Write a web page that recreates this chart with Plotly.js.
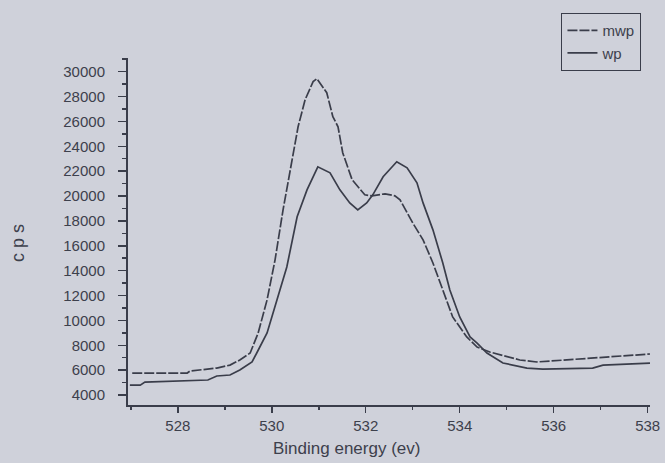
<!DOCTYPE html>
<html>
<head>
<meta charset="utf-8">
<script src="https://cdn.plot.ly/plotly-3.0.1.min.js"></script>
<style>html,body{margin:0;padding:0;background:#cfd1da;}</style>
</head>
<body>
<div id="chart" style="width:665px;height:463px;"></div>
<script>
// Binding energy (eV) and counts per second
const energyMwp = [527.03, 528.20, 528.26, 528.83, 529.11, 529.32, 529.54, 529.71, 529.90, 530.07, 530.24, 530.43, 530.56, 530.71, 530.88, 530.96, 531.17, 531.30, 531.41, 531.51, 531.71, 531.98, 532.13, 532.41, 532.62, 532.73, 533.00, 533.22, 533.43, 533.64, 533.85, 534.15, 534.37, 534.64, 535.28, 535.64, 536.83, 537.90, 538.05];
const cpsMwp    = [5770, 5770, 5930, 6170, 6410, 6820, 7380, 8990, 11650, 14870, 18890, 22920, 25570, 27750, 29200, 29440, 28310, 26380, 25570, 23480, 21310, 20100, 20020, 20180, 20020, 19700, 17840, 16480, 14620, 12450, 10280, 8670, 7860, 7460, 6820, 6660, 6980, 7220, 7300];

const energyWp = [526.98, 527.20, 527.30, 528.64, 528.83, 529.11, 529.32, 529.58, 529.68, 529.90, 530.11, 530.32, 530.54, 530.75, 530.98, 531.24, 531.45, 531.66, 531.83, 532.02, 532.15, 532.37, 532.66, 532.88, 533.09, 533.22, 533.43, 533.64, 533.79, 534.00, 534.22, 534.37, 534.58, 534.92, 535.43, 535.77, 536.83, 537.05, 538.05];
const cpsWp    = [4800, 4800, 5045, 5210, 5530, 5610, 6010, 6660, 7380, 8990, 11650, 14300, 18330, 20500, 22350, 21870, 20500, 19450, 18890, 19450, 20100, 21550, 22760, 22270, 21060, 19450, 17280, 14620, 12450, 10280, 8670, 8180, 7380, 6580, 6170, 6090, 6170, 6410, 6570];

const xTicks = [528, 530, 532, 534, 536, 538];
const yTicks = [4000, 6000, 8000, 10000, 12000, 14000, 16000, 18000, 20000, 22000, 24000, 26000, 28000, 30000];

const ink = '#3a3d4a';
const font = 'Liberation Sans, Arial, sans-serif';

const traces = [
  {x: energyMwp, y: cpsMwp, name: 'mwp', mode: 'lines', line: {color: ink, width: 1.7, dash: '10px,2px'}},
  {x: energyWp, y: cpsWp, name: 'wp', mode: 'lines', line: {color: ink, width: 1.7}}
];

const layout = {
  width: 665, height: 463,
  margin: {l: 128, r: 15, t: 58, b: 58},
  paper_bgcolor: '#cfd1da', plot_bgcolor: '#cfd1da',
  font: {family: font, color: '#3d404c', size: 15},
  showlegend: true,
  legend: {
    x: 0.83, y: 1.13, xanchor: 'left', yanchor: 'top',
    bgcolor: 'rgba(0,0,0,0)', bordercolor: ink, borderwidth: 1.2,
    font: {size: 15, color: '#3d404c'}, tracegroupgap: 0
  },
  xaxis: {
    range: [526.94, 538.05], tickvals: xTicks, ticktext: xTicks.map(String),
    ticks: 'outside', ticklen: 6, tickwidth: 1.5, tickcolor: ink,
    showline: true, linecolor: ink, linewidth: 2,
    showgrid: false, zeroline: false,
    tickfont: {size: 15, color: '#3d404c'},
    minor: {dtick: 1, tick0: 527, ticks: 'outside', ticklen: 3, tickcolor: ink, showgrid: false}
  },
  yaxis: {
    range: [3200, 31100], tickvals: yTicks, ticktext: yTicks.map(String),
    ticks: 'outside', ticklen: 8, tickwidth: 1.5, tickcolor: ink,
    showline: true, linecolor: ink, linewidth: 2,
    showgrid: false, zeroline: false, ticklabelstandoff: 10,
    tickfont: {size: 15, color: '#3d404c'},
    minor: {dtick: 1000, ticks: 'outside', ticklen: 4, tickcolor: ink, showgrid: false}
  },
  annotations: [
    {text: 'Binding energy (ev)', xref: 'paper', yref: 'paper', x: 0.419, y: -0.125,
     xanchor: 'center', yanchor: 'middle', showarrow: false, font: {size: 17, color: '#3d404c'}},
    {text: 'c p s', xref: 'paper', yref: 'paper', x: -0.212, y: 0.468, textangle: -90,
     xanchor: 'center', yanchor: 'middle', showarrow: false, font: {size: 18, color: '#3d404c'}}
  ]
};

Plotly.newPlot('chart', traces, layout, {displayModeBar: false, staticPlot: true});
</script>
</body>
</html>
